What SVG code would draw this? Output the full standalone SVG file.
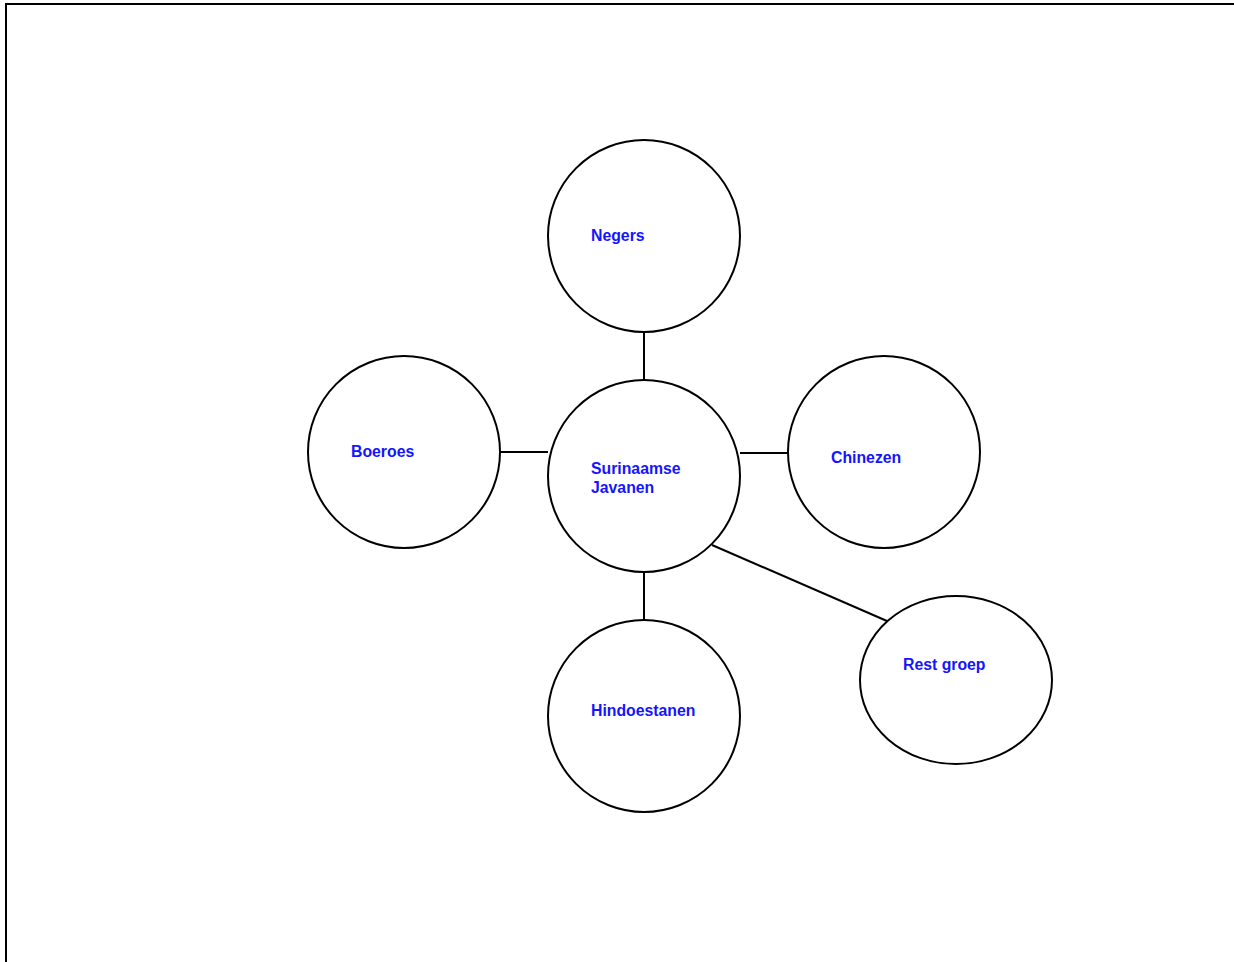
<svg xmlns="http://www.w3.org/2000/svg" width="1234" height="962" viewBox="0 0 1234 962">
<style>
.n{fill:#fff;stroke:#000;stroke-width:2}
.c{stroke:#000;stroke-width:2;fill:none}
.t{font-family:"Liberation Sans",Arial,sans-serif;font-weight:bold;font-size:15.8px;fill:#1414ff}
</style>
<rect x="6" y="4" width="1240" height="970" fill="#fff" stroke="#000" stroke-width="2"/>
<g id="connectors">
<line class="c" x1="644" y1="332" x2="644" y2="380"/>
<line class="c" x1="500" y1="452" x2="548" y2="452"/>
<line class="c" x1="740" y1="453" x2="788" y2="453"/>
<line class="c" x1="644" y1="572" x2="644" y2="620"/>
<line class="c" x1="712" y1="545" x2="887" y2="621"/>
</g>
<g id="negers"><circle class="n" cx="644" cy="236" r="96"/><text class="t" x="591" y="241">Negers</text></g>
<g id="javanen"><circle class="n" cx="644" cy="476" r="96"/><text class="t" x="591" y="474">Surinaamse</text><text class="t" x="591" y="493">Javanen</text></g>
<g id="boeroes"><circle class="n" cx="404" cy="452" r="96"/><text class="t" x="351" y="457">Boeroes</text></g>
<g id="chinezen"><circle class="n" cx="884" cy="452" r="96"/><text class="t" x="831" y="463">Chinezen</text></g>
<g id="hindoestanen"><circle class="n" cx="644" cy="716" r="96"/><text class="t" x="591" y="716">Hindoestanen</text></g>
<g id="restgroep"><ellipse class="n" cx="956" cy="680" rx="96" ry="84"/><text class="t" x="903" y="670">Rest groep</text></g>
</svg>
